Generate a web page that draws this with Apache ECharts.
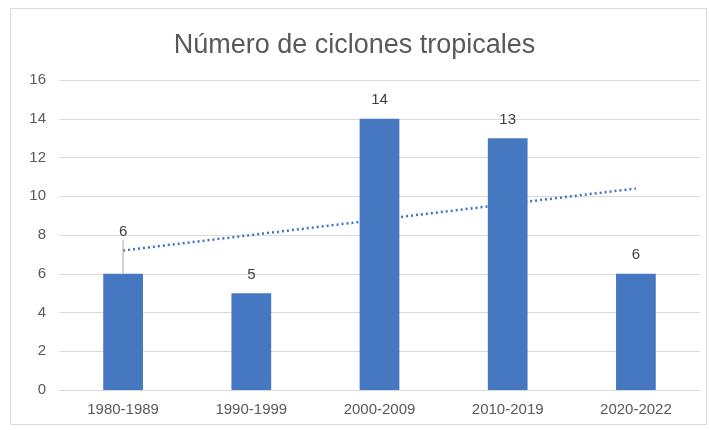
<!DOCTYPE html>
<html>
<head>
<meta charset="utf-8">
<script src="https://cdn.jsdelivr.net/npm/echarts@6/dist/echarts.min.js"></script>
<style>
html,body{margin:0;padding:0;background:#fff;}
#c{width:709px;height:430px;}
</style>
</head>
<body>
<div id="c"></div>
<script>
const categories = ['1980-1989', '1990-1999', '2000-2009', '2010-2019', '2020-2022'];
const cyclones = [6, 5, 14, 13, 6];
const trendline = [7.2, null, null, null, 10.4];
const yTicks = [0, 2, 4, 6, 8, 10, 12, 14, 16];

const barData = cyclones.map((v, i) => i === 0 ? { value: v, labelLine: { show: true } } : v);

const chart = echarts.init(document.getElementById('c'));
chart.setOption({
  animation: false,
  backgroundColor: '#fff',
  graphic: [{
    type: 'rect',
    shape: { x: 10.5, y: 8.5, width: 696, height: 416 },
    style: { fill: 'none', stroke: '#d9d9d9', lineWidth: 1 },
    silent: true
  }],
  title: {
    text: 'Número de ciclones tropicales',
    left: 'center',
    top: 27,
    textStyle: { fontFamily: 'Liberation Sans, Arial', fontSize: 27, fontWeight: 'normal', color: '#595959' }
  },
  grid: { left: 59, right: 9, top: 80, bottom: 40 },
  xAxis: {
    type: 'category',
    data: categories,
    axisTick: { show: false },
    axisLine: { lineStyle: { color: '#d9d9d9' } },
    axisLabel: { color: '#595959', fontSize: 15, fontFamily: 'Liberation Sans, Arial', margin: 12 }
  },
  yAxis: {
    type: 'value',
    min: yTicks[0],
    max: yTicks[yTicks.length - 1],
    interval: 2,
    axisLine: { show: false },
    axisTick: { show: false },
    splitLine: { lineStyle: { color: '#d9d9d9' } },
    axisLabel: { color: '#595959', fontSize: 15, fontFamily: 'Liberation Sans, Arial', margin: 13 }
  },
  series: [{
    type: 'line',
    data: trendline,
    connectNulls: true,
    symbol: 'none',
    lineStyle: { color: '#4472c4', width: 2.5, type: [2, 3] },
    z: 1
  }, {
    type: 'bar',
    data: barData,
    barWidth: '31%',
    itemStyle: { color: '#4677c1' },
    label: { show: true, position: 'top', color: '#404040', fontSize: 15, fontFamily: 'Liberation Sans, Arial', distance: 11 },
    labelLayout: function (p) { return p.dataIndex === 0 ? { dy: -23 } : {}; },
    labelLine: { show: false, lineStyle: { color: '#a6a6a6', width: 1 } },
    z: 2
  }]
});
</script>
</body>
</html>
